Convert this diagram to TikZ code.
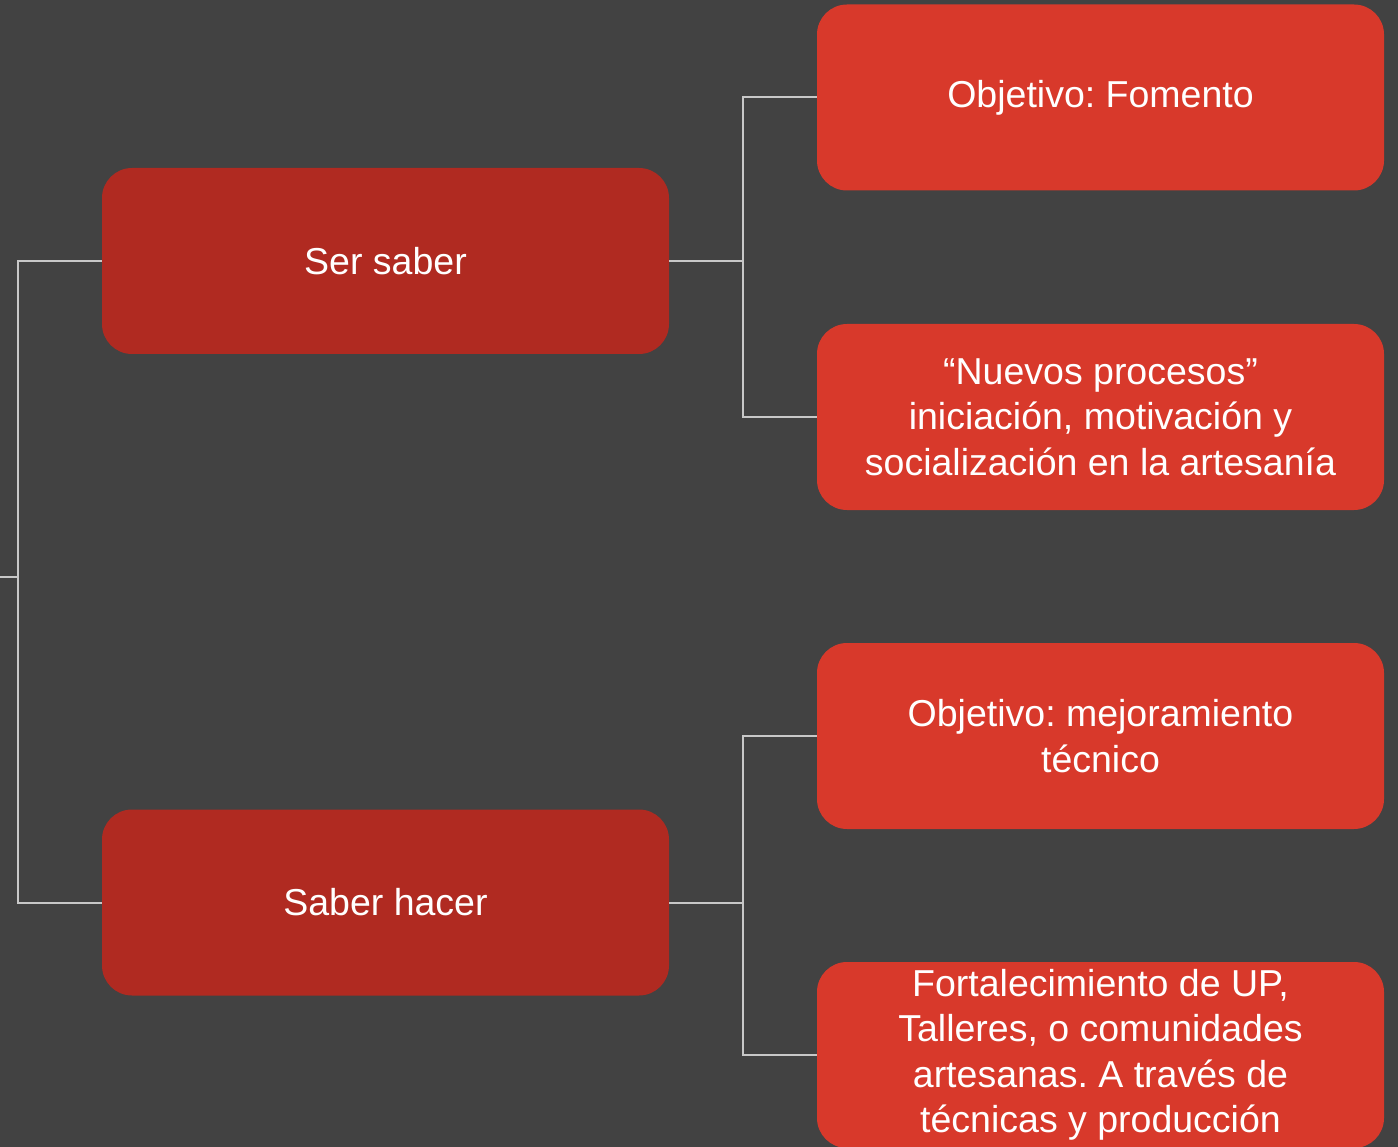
\documentclass[tikz,border=0pt]{standalone}
\usepackage{fontspec}
\setmainfont{Liberation Sans}
\definecolor{bg}{HTML}{424242}
\definecolor{darkred}{HTML}{B02A21}
\definecolor{lightred}{HTML}{D8392B}
\definecolor{linec}{HTML}{C8C8C8}
\begin{document}
\frenchspacing
\begin{tikzpicture}[x=1pt,y=-1pt,
  box/.style={rounded corners=30pt, minimum width=567pt, minimum height=186pt, text=white, align=center, font=\fontsize{37.5}{45.5}\selectfont, inner sep=0pt},
  leftbox/.style={box, fill=darkred},
  rightbox/.style={box, fill=lightred},
  conn/.style={draw=linec, line width=2pt}]
\useasboundingbox (0,0) rectangle (1398,1147);
\clip (0,0) rectangle (1398,1147);
\fill[bg] (0,0) rectangle (1398,1147);
\node[leftbox] (ser) at (385.5,261) {Ser saber};
\node[leftbox] (hacer) at (385.5,902.5) {Saber hacer};
\node[rightbox] (o1) at (1100.5,97.5) {Objetivo: Fomento};
\node[rightbox] (o2) at (1100.5,417) {“Nuevos procesos”\\iniciación, motivación y\\socialización en la artesanía};
\node[rightbox] (o3) at (1100.5,736) {Objetivo: mejoramiento\\técnico};
\node[rightbox] (o4) at (1100.5,1055) {Fortalecimiento de UP,\\Talleres, o comunidades\\artesanas. A través de\\técnicas y producción};
\coordinate (root) at (0,577);
\draw[conn] (root) -- ++(18,0);
\draw[conn] (ser.west) -- ++(-84,0) |- (hacer.west);
\draw[conn] (ser.east) -- ++(74,0);
\draw[conn] (o1.west) -- ++(-74,0) |- (o2.west);
\draw[conn] (hacer.east) -- ++(74,0);
\draw[conn] (o3.west) -- ++(-74,0) |- (o4.west);
\end{tikzpicture}
\end{document}
